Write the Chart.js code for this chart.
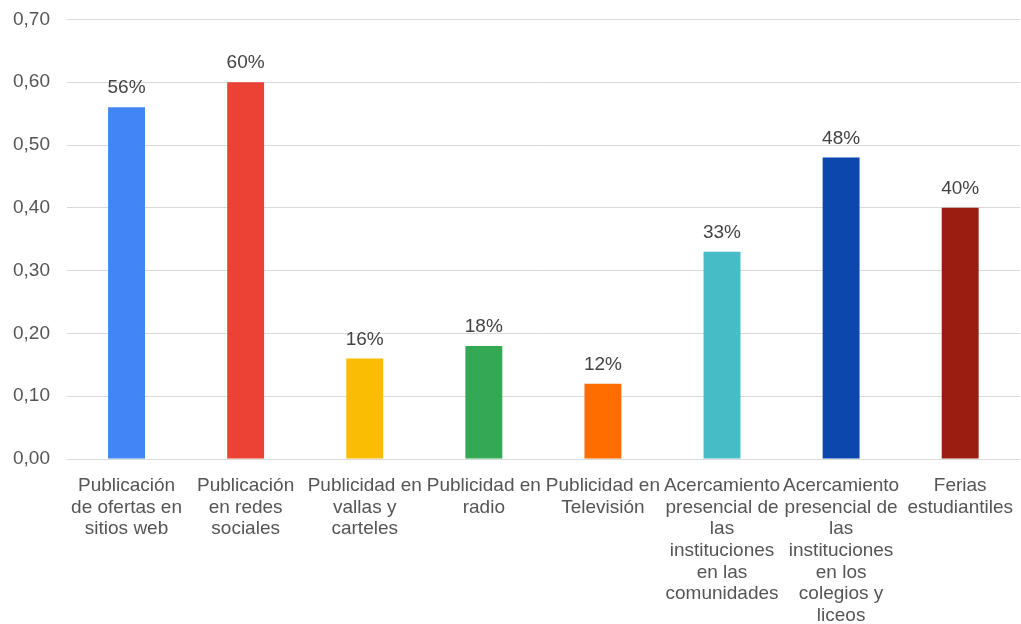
<!DOCTYPE html>
<html>
<head>
<meta charset="utf-8">
<script src="https://cdn.jsdelivr.net/npm/chart.js@4"></script>
<style>
  html, body { margin: 0; padding: 0; background: #fff; overflow: hidden; }
  /* the layout keeps ~9px above the top tick, so the canvas is lifted by that much */
  #wrap { width: 1021px; height: 633px; margin-top: -9px; }
</style>
</head>
<body>
<div id="wrap"><canvas id="medios"></canvas></div>
<script>
const categorias = [
    ["Publicación", "de ofertas en", "sitios web"],
    ["Publicación", "en redes", "sociales"],
    ["Publicidad en", "vallas y", "carteles"],
    ["Publicidad en", "radio"],
    ["Publicidad en", "Televisión"],
    ["Acercamiento", "presencial de", "las", "instituciones", "en las", "comunidades"],
    ["Acercamiento", "presencial de", "las", "instituciones", "en los", "colegios y", "liceos"],
    ["Ferias", "estudiantiles"]
];
const valores = [0.56, 0.60, 0.16, 0.18, 0.12, 0.33, 0.48, 0.40];
const colores = ["#4285F4", "#EA4335", "#FBBC04", "#34A853", "#FF6D01", "#46BDC6", "#0B47AD", "#9B1C10"];
const ticksY = [0, 0.1, 0.2, 0.3, 0.4, 0.5, 0.6, 0.7];

const fuente = "'Liberation Sans', Arial, sans-serif";

// percentage label over each bar
const etiquetas = {
    id: "etiquetas",
    afterDatasetsDraw(chart) {
        const ctx = chart.ctx;
        const meta = chart.getDatasetMeta(0);
        ctx.save();
        ctx.font = "19px " + fuente;
        ctx.fillStyle = "#444";
        ctx.textAlign = "center";
        ctx.textBaseline = "alphabetic";
        meta.data.forEach((bar, i) => {
            ctx.fillText(Math.round(valores[i] * 100) + "%", bar.x, bar.y - 14);
        });
        ctx.restore();
    }
};

const ctx = document.getElementById("medios").getContext("2d");
new Chart(ctx, {
    type: "bar",
    data: {
        labels: categorias,
        datasets: [{
            data: valores,
            backgroundColor: colores,
            borderWidth: 0,
            barPercentage: 1,
            categoryPercentage: 0.31
        }]
    },
    options: {
        responsive: true,
        maintainAspectRatio: false,
        animation: false,
        layout: { autoPadding: false, padding: { top: 19, right: 0, left: 0, bottom: 0 } },
        plugins: {
            legend: { display: false },
            tooltip: { enabled: false }
        },
        scales: {
            x: {
                grid: { display: false },
                border: { color: "#d9d9d9" },
                ticks: {
                    autoSkip: false,
                    maxRotation: 0,
                    padding: 8,
                    color: "#555",
                    font: { family: fuente, size: 19, lineHeight: 1.14 }
                },
                afterFit(scale) { scale.height = 165; }
            },
            y: {
                min: 0,
                max: 0.7,
                afterBuildTicks(scale) { scale.ticks = ticksY.map(v => ({ value: v })); },
                grid: { color: "#d9d9d9", drawTicks: false },
                border: { display: false },
                ticks: {
                    padding: 17,
                    color: "#555",
                    font: { family: fuente, size: 19 },
                    callback: v => v.toFixed(2).replace(".", ",")
                },
                afterFit(scale) { scale.width = 67; }
            }
        }
    },
    plugins: [etiquetas]
});
</script>
</body>
</html>
